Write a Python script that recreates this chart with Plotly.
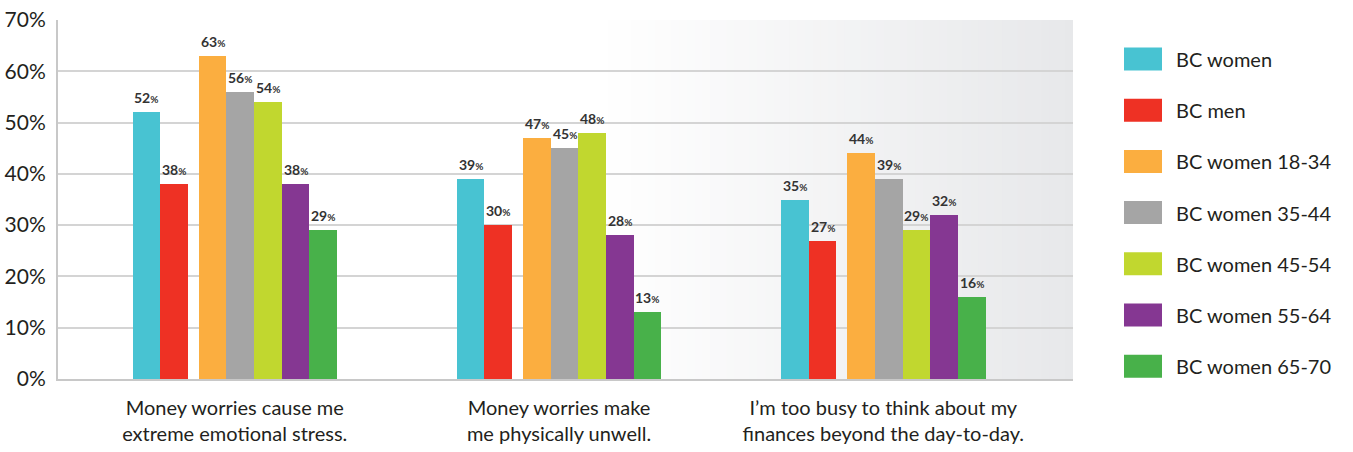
import plotly.graph_objects as go

categories = [
    "Money worries cause me<br>extreme emotional stress.",
    "Money worries make<br>me physically unwell.",
    "I’m too busy to think about my<br>finances beyond the day-to-day.",
]
series_names = ["BC women", "BC men", "BC women 18-34", "BC women 35-44",
                "BC women 45-54", "BC women 55-64", "BC women 65-70"]
bc_women = [52, 39, 35]
bc_men = [38, 30, 27]
women_18_34 = [63, 47, 44]
women_35_44 = [56, 45, 39]
women_45_54 = [54, 48, 29]
women_55_64 = [38, 28, 32]
women_65_70 = [29, 13, 16]
y_ticks = [0, 10, 20, 30, 40, 50, 60, 70]

series_values = [bc_women, bc_men, women_18_34, women_35_44,
                 women_45_54, women_55_64, women_65_70]
colors = ["#48C3D2", "#EE3124", "#FBAE40", "#A5A5A5", "#C1D72F", "#853792", "#48B14A"]

W, H = 1353, 452
L, R, T, B = 58, 280, 20, 73
plot_w = W - L - R
plot_h = H - T - B

# bar geometry in category units (one category = ~325px)
bar_w = 0.0852
gap = 0.034
offsets = []
pos = -(7 * bar_w + gap) / 2
for i in range(7):
    offsets.append(pos)
    pos += bar_w
    if i == 1:
        pos += gap

font = "Lato, 'Open Sans', sans-serif"
fig = go.Figure()
for name, vals, col, off in zip(series_names, series_values, colors, offsets):
    fig.add_trace(go.Bar(
        x=categories, y=vals, name=name, marker=dict(color=col, line=dict(width=0)),
        width=bar_w, offset=off, showlegend=False,
    ))
    # value labels above each bar
    for ci, v in enumerate(vals):
        fig.add_annotation(
            x=ci + off + bar_w / 2, y=v, xref="x", yref="y",
            text=f"<b>{v}</b><span style='font-size:10px'><b>%</b></span>",
            showarrow=False, yanchor="bottom", yshift=4,
            font=dict(family=font, size=14, color="#333333"),
        )

# soft gradient background on the right side of the plot
n = 60
x0p = (600 - L) / plot_w
for k in range(n):
    a = x0p + (1 - x0p) * k / n
    b = x0p + (1 - x0p) * (k + 1) / n
    t = (k + 0.5) / n
    r = round(255 - t * (255 - 0xE7))
    g = round(255 - t * (255 - 0xE8))
    bl = round(255 - t * (255 - 0xEA))
    fig.add_shape(type="rect", xref="paper", yref="paper", x0=a, x1=min(b + 0.002, 1), y0=0, y1=1,
                  fillcolor=f"rgb({r},{g},{bl})", line=dict(width=0), layer="below")

# custom legend
def px_x(p):
    return (p - L) / plot_w

def px_y(p):
    return (H - B - p) / plot_h

for i, (name, col) in enumerate(zip(series_names, colors)):
    cy = 59 + i * 51.2
    fig.add_shape(type="rect", xref="paper", yref="paper",
                  x0=px_x(1124), x1=px_x(1162), y0=px_y(cy + 11.5), y1=px_y(cy - 11.5),
                  fillcolor=col, line=dict(width=0))
    fig.add_annotation(xref="paper", yref="paper", x=px_x(1174), y=px_y(cy),
                       text=name, showarrow=False, xanchor="left", yanchor="middle",
                       font=dict(family=font, size=20, color="#231F20"))

fig.update_layout(
    width=W, height=H,
    margin=dict(l=L, r=R, t=T, b=B, autoexpand=False),
    paper_bgcolor="white", plot_bgcolor="white",
    bargap=0, showlegend=False,
    font=dict(family=font, color="#231F20"),
)
fig.update_xaxes(
    range=[-0.545, 2.585], showgrid=False, ticks="", showline=True,
    linecolor="#C8C8C8", linewidth=2, automargin=False,
    ticklabelstandoff=10,
    tickfont=dict(family=font, size=20, color="#231F20"),
)
fig.update_yaxes(
    range=[0, 70], tickvals=y_ticks, ticktext=[f"{v}%" for v in y_ticks],
    showgrid=True, gridcolor="#D4D4D4", gridwidth=2, zeroline=False,
    showline=True, linecolor="#C8C8C8", linewidth=2, ticks="",
    ticklabelstandoff=6, automargin=False,
    tickfont=dict(family=font, size=21, color="#231F20"),
)

fig.write_html("out.html", config={"displayModeBar": False},
               post_script="document.body.style.margin='0';")
